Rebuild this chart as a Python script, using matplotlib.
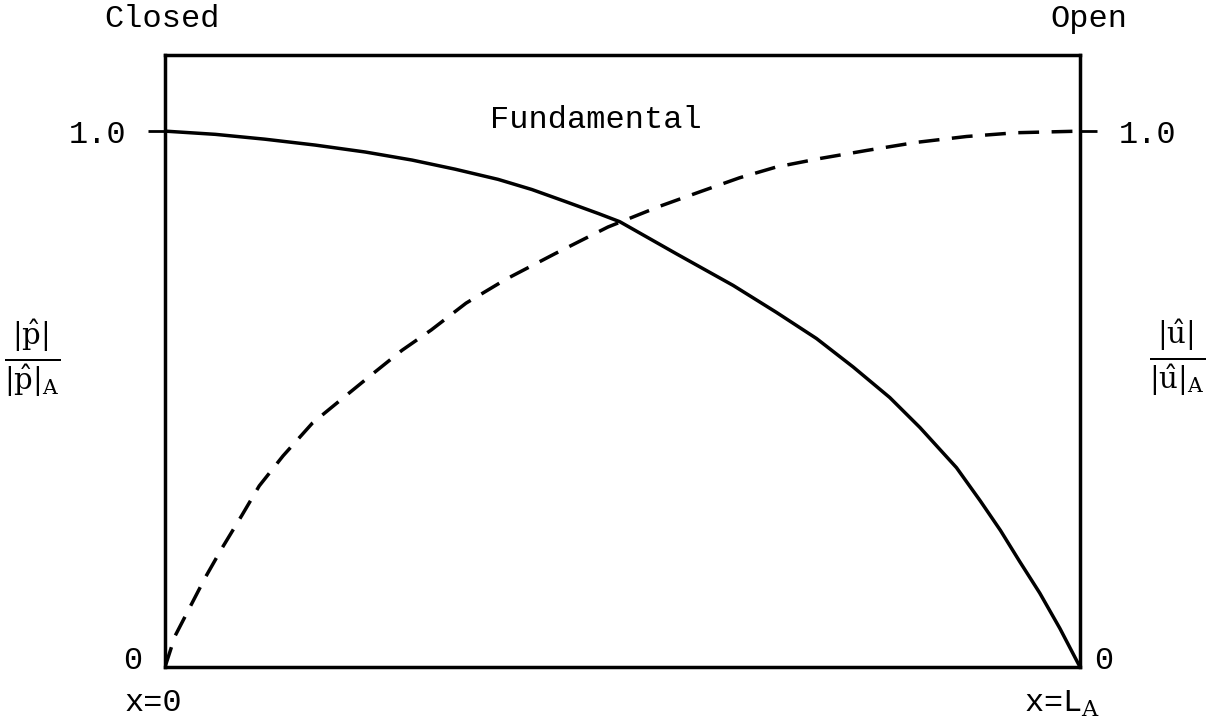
import matplotlib.pyplot as plt

# pressure (solid) and velocity (dashed) amplitude along the tube, fundamental mode
p_x = [0.0, 0.055, 0.109, 0.164, 0.219, 0.270, 0.317, 0.364, 0.401, 0.437, 0.474, 0.497,
       0.559, 0.621, 0.668, 0.712, 0.752, 0.792, 0.825, 0.865, 0.891, 0.913, 0.934,
       0.956, 0.978, 1.0]
p_y = [1.0, 0.994, 0.985, 0.974, 0.961, 0.946, 0.929, 0.910, 0.891, 0.869, 0.846, 0.831,
       0.771, 0.712, 0.662, 0.613, 0.560, 0.503, 0.447, 0.372, 0.310, 0.255, 0.197,
       0.138, 0.072, 0.0]

u_x = [0.0, 0.011, 0.044, 0.062, 0.084, 0.103, 0.129, 0.161, 0.191, 0.224, 0.259,
       0.291, 0.329, 0.373, 0.427, 0.484, 0.541, 0.585, 0.628, 0.668, 0.716, 0.767,
       0.821, 0.876, 0.930, 1.0]
u_y = [0.0, 0.058, 0.167, 0.221, 0.283, 0.338, 0.394, 0.455, 0.497, 0.543, 0.591,
       0.629, 0.679, 0.724, 0.772, 0.821, 0.860, 0.887, 0.913, 0.933, 0.949, 0.964,
       0.979, 0.990, 0.997, 1.0]

plt.rcParams['font.family'] = ['Liberation Mono', 'DejaVu Sans Mono']
plt.rcParams['mathtext.fontset'] = 'dejavuserif'

fig = plt.figure(figsize=(12.07, 7.27), dpi=100)
ax = fig.add_axes([0.1367, 0.0825, 0.7581, 0.8418])

ax.plot(p_x, p_y, color='black', lw=2.5, solid_joinstyle='round')
ax.plot(u_x, u_y, color='black', lw=2.5, dashes=(6, 3.6))

ax.set_xlim(0, 1)
ax.set_ylim(0, 1.142)
for s in ax.spines.values():
    s.set_linewidth(2.5)

ax.set_xticks([])
ax.set_yticks([1.0])
ax.set_yticklabels(['1.0'], fontsize=23)
ax.tick_params(axis='y', direction='out', length=12, width=2, pad=16,
               left=True, right=True, labelleft=True, labelright=True)

# end values and positions
ax.text(-0.025, 0.01, '0', ha='right', va='center', fontsize=23, transform=ax.transAxes)
ax.text(1.015, 0.01, '0', ha='left', va='center', fontsize=23, transform=ax.transAxes)
ax.text(-0.013, -0.035, 'x=0', ha='center', va='top', fontsize=23, transform=ax.transAxes)
ax.text(0.98, -0.035, r'x=L$_{\mathrm{A}}$', ha='center', va='top', fontsize=23,
        transform=ax.transAxes)

ax.text(-0.066, 1.035, 'Closed', ha='left', va='bottom', fontsize=23, transform=ax.transAxes)
ax.text(1.01, 1.035, 'Open', ha='center', va='bottom', fontsize=23, transform=ax.transAxes)
ax.text(0.471, 0.894, 'Fundamental', ha='center', va='center', fontsize=23,
        transform=ax.transAxes)

ax.text(-0.145, 0.505, r'$\frac{|\hat{\mathrm{p}}|}{|\hat{\mathrm{p}}|_{\mathrm{A}}}$',
        ha='center', va='center', fontsize=30, transform=ax.transAxes)
ax.text(1.106, 0.505, r'$\frac{|\hat{\mathrm{u}}|}{|\hat{\mathrm{u}}|_{\mathrm{A}}}$',
        ha='center', va='center', fontsize=30, transform=ax.transAxes)

fig.savefig('out.png', dpi=100)
